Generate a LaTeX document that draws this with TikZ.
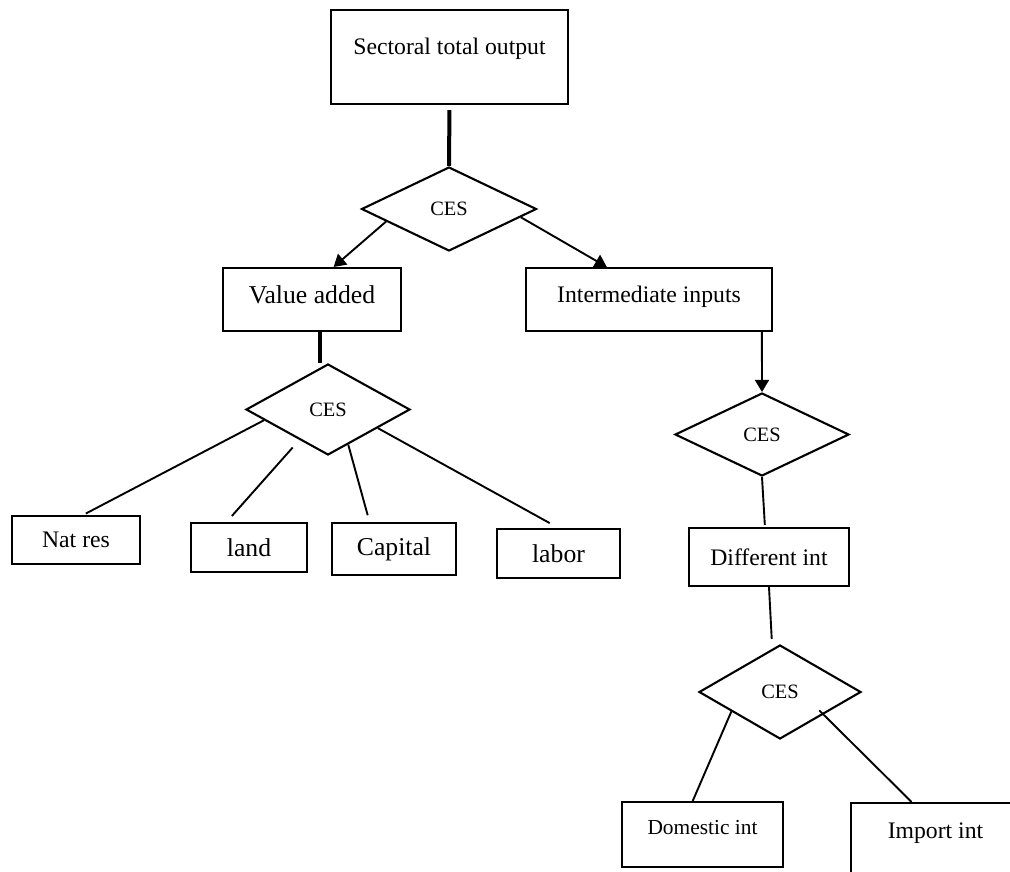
\documentclass[tikz,border=0pt]{standalone}
\usepackage{fontspec}
\setmainfont{Liberation Serif}
\usetikzlibrary{shapes.geometric, positioning, calc, arrows.meta}

\tikzset{
  box/.style={draw, line width=2.1pt, inner sep=0pt, font=\fontsize{23.7}{28}\selectfont},
  bigbox/.style={box, font=\fontsize{25.7}{30}\selectfont},
  ces/.style={diamond, draw, line width=2.1pt, inner sep=0pt, font=\fontsize{20.4}{24}\selectfont},
  link/.style={line width=1.9pt},
  trunk/.style={line width=4pt},
  flow/.style={line width=1.9pt, -{Triangle[length=12pt,width=14pt]}},
}

\begin{document}
\begin{tikzpicture}[x=1pt, y=-1pt]

    \useasboundingbox (0,0) rectangle (1010,871);
    \clip (0,0) rectangle (1010,871);

    % --- Top Level: total output and first CES nest ---
    \node[box, minimum width=237pt, minimum height=94pt, text height=17pt, text depth=23pt] (out) at (449.5,57) {Sectoral total output};
    \node[ces, minimum width=175pt, minimum height=84pt] (d1) at (449,209) {CES};

    % --- Second Level ---
    \node[bigbox, minimum width=178pt, minimum height=63pt, text height=18pt, text depth=11pt] (va) at (312,299.5) {Value added};
    \node[box, minimum width=246pt, minimum height=63pt, text height=17pt, text depth=12pt] (ii) at (649,299.5) {Intermediate inputs};

    % --- Value added nest ---
    \node[ces, minimum width=164pt, minimum height=91pt] (d2) at (328,409.5) {CES};
    \node[box, minimum width=128pt, minimum height=48pt] (nat) at (76,540) {Nat res};
    \node[bigbox, minimum width=116pt, minimum height=49pt] (land) at (249,547.5) {land};
    \node[bigbox, minimum width=124pt, minimum height=52pt] (cap) at (394,549) {Capital};
    \node[bigbox, minimum width=123pt, minimum height=49pt] (lab) at (558.5,553.5) {labor};

    % --- Intermediate inputs nest ---
    \node[ces, minimum width=174pt, minimum height=83pt] (d3) at (762,434.5) {CES};
    \node[box, minimum width=160pt, minimum height=58pt] (di) at (769,557) {Different int};
    \node[ces, minimum width=162pt, minimum height=94pt] (d4) at (780,692) {CES};
    \node[box, minimum width=161pt, minimum height=65pt, text height=15pt, text depth=15pt, font=\fontsize{21.4}{25}\selectfont] (dom) at (702.5,834.5) {Domestic int};
    \node[box, minimum width=169pt, minimum height=77pt, text height=17pt, text depth=24pt] (imp) at (935.5,841.5) {Import int};

    % --- Connectors from the top ---
    \draw[trunk, shorten <=5pt] (out.south) -- (d1.north);
    \draw[flow] ($(d1.west)!0.29!(d1.south)$) -- ($(va.north west)!0.62!(va.north east)$);
    \draw[flow] ($(d1.east)!0.19!(d1.south)$) -- ($(ii.north west)!0.33!(ii.north east)$);

    % --- Value added to its factors ---
    \coordinate (vastem) at ($(va.south)!0.5!(d2.north)$);
    \draw[trunk] (vastem |- va.south) -- (vastem |- d2.north);
    \draw[link, shorten >=3pt] ($(d2.west)!0.23!(d2.south)$) -- ($(nat.north west)!0.555!(nat.north east)$);
    \draw[link, shorten <=10pt, shorten >=8pt] ($(d2.west)!0.655!(d2.south)$) -- ($(land.north west)!0.31!(land.north east)$);
    \draw[link, shorten >=7pt] ($(d2.south)!0.244!(d2.east)$) -- ($(cap.north west)!0.306!(cap.north east)$);
    \draw[link, shorten >=10pt] ($(d2.south)!0.6!(d2.east)$) -- (lab.north);

    % --- Intermediate inputs down to domestic / import ---
    \draw[flow] ($(ii.south west)!0.955!(ii.south east)$) -- (d3.north);
    \draw[link, shorten >=2pt] (d3.south) -- ($(di.north west)!0.475!(di.north east)$);
    \draw[link, shorten >=5pt] (di.south) -- ($(d4.north)+(-8,0)$);
    \draw[link] ($(d4.west)!0.407!(d4.south)$) -- ($(dom.north west)!0.44!(dom.north east)$);
    \draw[link, shorten <=-6pt] ($(d4.south)!0.53!(d4.east)$) -- ($(imp.north west)!0.36!(imp.north east)$);

\end{tikzpicture}
\end{document}
